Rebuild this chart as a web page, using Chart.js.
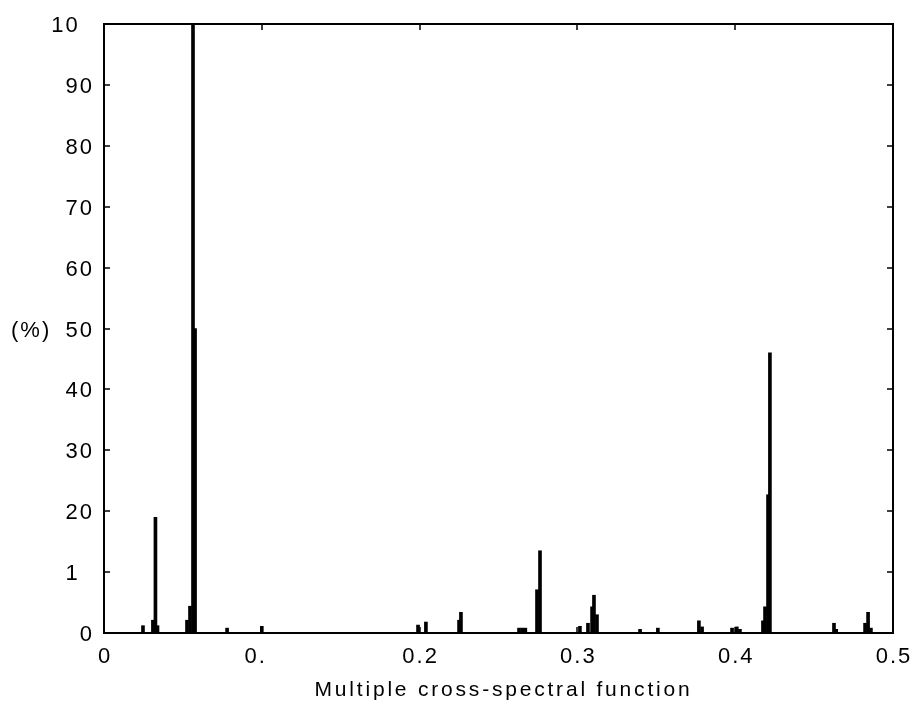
<!DOCTYPE html>
<html>
<head>
<meta charset="utf-8">
<script src="https://cdn.jsdelivr.net/npm/chart.js@4.4.0/dist/chart.umd.min.js"></script>
<style>
  html, body { margin: 0; padding: 0; background: #fff; }
  #wrap { width: 913px; height: 706px; }
</style>
</head>
<body>
<div id="wrap"><canvas id="myChart" width="913" height="706"></canvas></div>
<script>
// spectrum peaks (frequency, percent)
const freq = [0.0247, 0.0310, 0.0326, 0.0339, 0.0526, 0.0545, 0.0564, 0.0577, 0.0780, 0.1000,
              0.1990, 0.2040, 0.2250, 0.2262, 0.2630, 0.2650, 0.2670, 0.2744, 0.2763,
              0.3016, 0.3067, 0.3093, 0.3105, 0.3124, 0.3397, 0.3510, 0.3770, 0.3790,
              0.3980, 0.4010, 0.4030, 0.4176, 0.4189, 0.4208, 0.4220, 0.4626, 0.4640,
              0.4823, 0.4842, 0.4860];
const pct = [1.2, 2.1, 19, 1.2, 2.1, 4.4, 100, 50, 0.8, 1.1,
             1.3, 1.8, 2.1, 3.4, 0.8, 0.8, 0.8, 7.1, 13.5,
             1.1, 1.6, 4.3, 6.2, 3.0, 0.6, 0.8, 2.0, 1.0,
             0.8, 1.0, 0.6, 2.0, 4.3, 22.7, 46, 1.6, 0.6,
             1.6, 3.4, 0.8];

// tick labels as printed (some are cut off in the original)
const xTicks = [0, 0.1, 0.2, 0.3, 0.4, 0.5];
const xTickFull = ['0', '0.1', '0.2', '0.3', '0.4', '0.5'];
const xTickText = ['0', '0.', '0.2', '0.3', '0.4', '0.5'];
const yTicks = [0, 10, 20, 30, 40, 50, 60, 70, 80, 90, 100];
const yTickFull = ['0', '10', '20', '30', '40', '50', '60', '70', '80', '90', '100'];
const yTickText = ['0', '1', '20', '30', '40', '50', '60', '70', '80', '90', '10'];
const xTitle = 'Multiple cross-spectral function';
const yTitle = '(%)';

const frame = {
    id: 'frame',
    afterDraw(chart) {
        const ctx = chart.ctx;
        const a = chart.chartArea;
        const xs = chart.scales.x, ys = chart.scales.y;
        ctx.save();
        ctx.strokeStyle = '#000';
        ctx.lineWidth = 2;
        ctx.strokeRect(a.left, a.top, a.right - a.left, a.bottom - a.top);
        ctx.lineWidth = 1.5;
        const tl = 6;
        ctx.beginPath();
        xTicks.forEach(v => {
            const px = Math.round(xs.getPixelForValue(v));
            ctx.moveTo(px, a.bottom); ctx.lineTo(px, a.bottom - tl);
            ctx.moveTo(px, a.top); ctx.lineTo(px, a.top + tl);
        });
        yTicks.forEach(v => {
            const py = Math.round(ys.getPixelForValue(v));
            ctx.moveTo(a.left, py); ctx.lineTo(a.left + tl, py);
            ctx.moveTo(a.right, py); ctx.lineTo(a.right - tl, py);
        });
        ctx.stroke();

        ctx.fillStyle = '#000';
        ctx.font = '22px "Liberation Sans", Arial, sans-serif';
        ctx.letterSpacing = '2px';
        ctx.textBaseline = 'middle';
        ctx.textAlign = 'left';
        yTicks.forEach((v, i) => {
            const w = ctx.measureText(yTickFull[i]).width;
            const py = ys.getPixelForValue(v);
            ctx.fillText(yTickText[i], a.left - 10 - w, py + 2);
        });
        xTicks.forEach((v, i) => {
            const w = ctx.measureText(xTickFull[i]).width;
            const px = xs.getPixelForValue(v);
            ctx.fillText(xTickText[i], px - w / 2 + 1, a.bottom + 24);
        });
        ctx.fillText(yTitle, 11, (a.top + a.bottom) / 2 + 2);

        ctx.font = '21px "Liberation Sans", Arial, sans-serif';
        ctx.letterSpacing = '2.8px';
        ctx.textAlign = 'center';
        ctx.fillText(xTitle, (a.left + a.right) / 2 + 5, a.bottom + 57);
        ctx.restore();
    }
};

const points = freq.map((f, i) => ({ x: f, y: pct[i] }));

new Chart(document.getElementById('myChart').getContext('2d'), {
    type: 'bar',
    data: {
        datasets: [{
            data: points,
            backgroundColor: '#000',
            borderWidth: 0,
            barThickness: 3,
        }]
    },
    options: {
        responsive: false,
        animation: false,
        layout: { padding: { left: 104, right: 20, top: 24, bottom: 73 } },
        plugins: { legend: { display: false }, tooltip: { enabled: false } },
        scales: {
            x: { type: 'linear', min: 0, max: 0.5, display: false, offset: false },
            y: { min: 0, max: 100, display: false }
        }
    },
    plugins: [frame]
});
</script>
</body>
</html>
